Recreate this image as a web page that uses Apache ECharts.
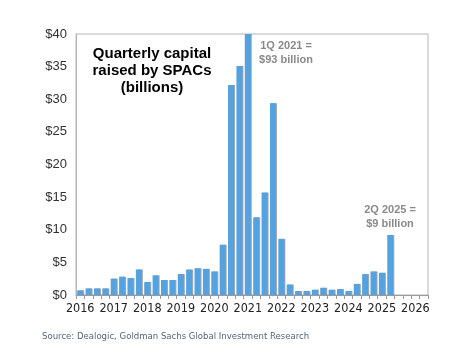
<!DOCTYPE html>
<html>
<head>
<meta charset="utf-8">
<script src="https://cdn.jsdelivr.net/npm/echarts@6/dist/echarts.min.js"></script>
<style>
  html, body { margin: 0; padding: 0; background: #fff; }
  #chart { width: 452px; height: 353px; }
</style>
</head>
<body>
<div id="chart"></div>
<script>
// 季度 SPAC 募资额（十亿美元），2016Q1 – 2026Q2；2025Q3 之后为空位
const years = ['2016', '2017', '2018', '2019', '2020', '2021', '2022', '2023', '2024', '2025', '2026']
const quarters = []
years.forEach(y => ['Q1', 'Q2', 'Q3', 'Q4'].forEach(q => quarters.push(y + q)))
quarters.length = 42

const raised = [
  0.7, 1.0, 1.0, 1.0,   // 2016
  2.5, 2.8, 2.6, 3.9,   // 2017
  2.0, 3.0, 2.3, 2.3,   // 2018
  3.2, 3.9, 4.1, 4.0,   // 2019
  3.6, 7.7, 32.2, 35.1, // 2020
  93, 11.9, 15.7, 29.4, // 2021
  8.6, 1.6, 0.6, 0.6,   // 2022
  0.8, 1.1, 0.8, 0.9,   // 2023
  0.6, 1.7, 3.2, 3.6,   // 2024
  3.4, 9.2              // 2025
]

const yTicks = [0, 5, 10, 15, 20, 25, 30, 35, 40]

// 窄体字优先，找不到时退回无衬线
const NARROW = "'Liberation Sans Narrow', 'DejaVu Sans Condensed', sans-serif"
const ARIAL = "'Liberation Sans', Arial, sans-serif"

const chart = echarts.init(document.getElementById('chart'), null, { renderer: 'canvas' })

chart.setOption({
  animation: false,
  backgroundColor: '#fff',
  grid: {
    left: 76, right: 24, top: 34, bottom: 58,
    show: true, borderColor: '#b5b5b5', borderWidth: 1
  },
  xAxis: {
    type: 'category',
    data: quarters,
    boundaryGap: true,
    axisLine: { lineStyle: { color: '#9a9a9a' } },
    axisTick: { show: true, interval: 0, length: 4, lineStyle: { color: '#9a9a9a' } },
    axisLabel: {
      interval: 3,
      margin: 7,
      color: '#222',
      fontSize: 12.5,
      fontFamily: NARROW,
      formatter: v => v.slice(0, 4)
    },
    splitLine: { show: false }
  },
  yAxis: {
    type: 'value',
    min: yTicks[0],
    max: yTicks[yTicks.length - 1],
    interval: 5,
    axisLine: { show: true, lineStyle: { color: '#b5b5b5' } },
    axisTick: { show: false },
    splitLine: { show: false },
    axisLabel: {
      margin: 9,
      color: '#333',
      fontSize: 13,
      fontFamily: ARIAL,
      formatter: v => '$' + v
    }
  },
  series: [{
    type: 'bar',
    data: raised,
    clip: true,
    barCategoryGap: '28%',
    itemStyle: {
      color: '#55a2e0',
      shadowColor: 'rgba(0,0,0,0.35)',
      shadowOffsetX: 1,
      shadowBlur: 0
    }
  }],
  graphic: [
    {
      type: 'text',
      style: {
        x: 152, y: 45, text: 'Quarterly capital\nraised by SPACs\n(billions)',
        textAlign: 'center', textVerticalAlign: 'top',
        font: 'bold 15px ' + ARIAL, fill: '#000', lineHeight: 17
      }
    },
    {
      type: 'text',
      style: {
        x: 286, y: 39, text: '1Q 2021 =\n$93 billion',
        textAlign: 'center', textVerticalAlign: 'top',
        font: 'bold 11px ' + ARIAL, fill: '#8a8a8a', lineHeight: 14
      }
    },
    {
      type: 'text',
      style: {
        x: 390, y: 203, text: '2Q 2025 =\n$9 billion',
        textAlign: 'center', textVerticalAlign: 'top',
        font: 'bold 11px ' + ARIAL, fill: '#8a8a8a', lineHeight: 14
      }
    },
    {
      type: 'text',
      style: {
        x: 42, y: 332, text: 'Source: Dealogic, Goldman Sachs Global Investment Research',
        textAlign: 'left', textVerticalAlign: 'top',
        font: '9.5px ' + NARROW, fill: '#56647e'
      }
    }
  ]
})
</script>
</body>
</html>
